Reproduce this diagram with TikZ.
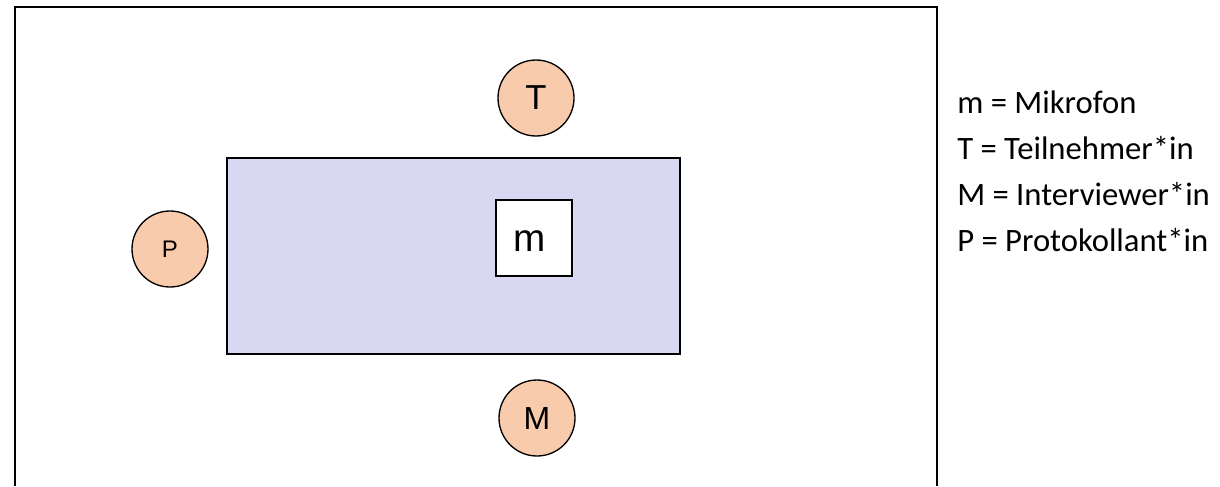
\documentclass[tikz,border=0pt]{standalone}
\usepackage{fontspec}
\setmainfont{Liberation Sans}
\newfontfamily\legendfont{Carlito}
\definecolor{seatpeach}{RGB}{249,203,173}
\definecolor{tablelilac}{RGB}{216,216,242}

\begin{document}
\begin{tikzpicture}[x=0.75pt,y=0.75pt,yscale=-1,xscale=1,
    seat/.style={circle,draw=black,fill=seatpeach,line width=1pt,minimum size=57pt,inner sep=0pt},
    legend/.style={anchor=west,inner sep=0.75pt,font=\legendfont\fontsize{24.5}{28}\selectfont}]
    \useasboundingbox (0,0) rectangle (1220,486);

    %Shape: Room (open at the bottom)
    \draw [line width=0.9pt] (15,486) -- (15,7) -- (937,7) -- (937,486) ;
    %Shape: Table
    \draw [line width=0.9pt,fill=tablelilac] (227,158) rectangle (680,354) ;
    %Shape: Microphone
    \node [draw=black,fill=white,line width=0.9pt,minimum size=57pt,inner sep=0pt] (mic) at (534,238) {};
    \node [font=\fontsize{29}{32}\selectfont,inner sep=0pt] (micl) at (530,241) {m};

    %Shape: Circles
    \node [seat,font=\fontsize{26}{30}\selectfont] (teil) at (536,98) {T};
    \node [seat,font=\fontsize{18}{22}\selectfont] (proto) at (170,249) {P};
    \node [seat,font=\fontsize{24}{28}\selectfont] (inter) at (537,418) {M};

    % Text Node
    \node [legend] (legm) at (956,102) {m = Mikrofon};
    % Text Node
    \node [legend] (legt) at (956,148) {T = Teilnehmer*in};
    % Text Node
    \node [legend] (legi) at (956,194) {M = Interviewer*in};
    % Text Node
    \node [legend] (legp) at (956,240) {P = Protokollant*in};
\end{tikzpicture}
\end{document}
